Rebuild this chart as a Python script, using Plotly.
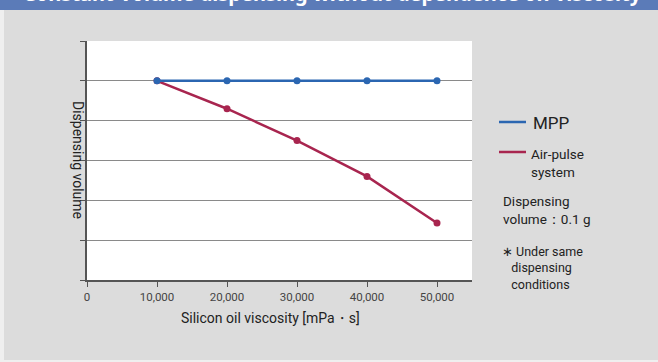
import plotly.graph_objects as go

# data
viscosity = [10000, 20000, 30000, 40000, 50000]
mpp_volume = [5.0, 5.0, 5.0, 5.0, 5.0]
air_pulse_volume = [5.0, 4.3, 3.5, 2.6, 1.43]
x_ticks = [0, 10000, 20000, 30000, 40000, 50000]
x_tick_labels = ["0", "10,000", "20,000", "30,000", "40,000", "50,000"]

FONT = "Liberation Sans Narrow, Roboto, Arial, sans-serif"
BG = "#dcdcdc"
BLUE = "#2b66b1"
RED = "#a8254f"

W, H = 658, 362
L, R, T, B = 87, 186, 41, 82
pw, ph = W - L - R, H - T - B


def px_x(p):
    return (p - L) / pw


def px_y(p):
    return 1 - (p - T) / ph


fig = go.Figure()
fig.add_trace(go.Scatter(
    x=viscosity, y=air_pulse_volume, mode="lines+markers",
    line=dict(color=RED, width=2.5), marker=dict(color=RED, size=7),
    showlegend=False,
))
fig.add_trace(go.Scatter(
    x=viscosity, y=mpp_volume, mode="lines+markers",
    line=dict(color=BLUE, width=2.5), marker=dict(color=BLUE, size=7),
    showlegend=False,
))

# light frame edges of the panel
fig.add_shape(type="rect", xref="paper", yref="paper",
              x0=px_x(-2), x1=px_x(4), y0=px_y(364), y1=px_y(10),
              fillcolor="#efefef", line_width=0, layer="below")
fig.add_shape(type="rect", xref="paper", yref="paper",
              x0=px_x(-2), x1=px_x(W + 2), y0=px_y(364), y1=px_y(360),
              fillcolor="#efefef", line_width=0, layer="below")

# title banner (cut off at the top of the picture)
fig.add_shape(type="rect", xref="paper", yref="paper",
              x0=px_x(-2), x1=px_x(W + 2), y0=px_y(10), y1=px_y(-5),
              fillcolor="#5b7bb8", line_width=0, layer="below")
fig.add_annotation(text="<b>Constant-volume dispensing without dependence on viscosity</b>",
                   xref="paper", yref="paper", x=px_x(332), y=px_y(9),
                   xanchor="center", yanchor="bottom", showarrow=False,
                   font=dict(family="Noto Sans, sans-serif", size=20, color="white"))

# legend, drawn by hand
for yy, col in [(122, BLUE), (152, RED)]:
    fig.add_shape(type="line", xref="paper", yref="paper",
                  x0=px_x(499), x1=px_x(526), y0=px_y(yy), y1=px_y(yy),
                  line=dict(color=col, width=2.5))
fig.add_annotation(text="MPP", xref="paper", yref="paper", x=px_x(531), y=px_y(123),
                   xanchor="left", yanchor="middle", showarrow=False,
                   font=dict(family=FONT, size=17, color="#222"))
fig.add_annotation(text="Air-pulse<br>system", xref="paper", yref="paper",
                   x=px_x(529), y=px_y(163), xanchor="left", yanchor="middle",
                   align="left", showarrow=False,
                   font=dict(family=FONT, size=13.5, color="#222"))
fig.add_annotation(text="Dispensing<br>volume：0.1 g", xref="paper", yref="paper",
                   x=px_x(501), y=px_y(210), xanchor="left", yanchor="middle",
                   align="left", showarrow=False,
                   font=dict(family=FONT, size=13.5, color="#222"))
fig.add_annotation(text="∗ Under same<br>   dispensing<br>   conditions", xref="paper", yref="paper",
                   x=px_x(500), y=px_y(268), xanchor="left", yanchor="middle",
                   align="left", showarrow=False,
                   font=dict(family=FONT, size=12.5, color="#222"))

# axis titles
fig.add_annotation(text="Dispensing volume", xref="paper", yref="paper",
                   x=px_x(68), y=px_y(160), textangle=90, showarrow=False,
                   font=dict(family=FONT, size=14, color="#222"))
fig.add_annotation(text="Silicon oil viscosity [mPa・s]", xref="paper", yref="paper",
                   x=px_x(270), y=px_y(328), showarrow=False,
                   font=dict(family=FONT, size=14, color="#222"))

fig.update_layout(
    width=W, height=H,
    margin=dict(l=L, r=R, t=T, b=B),
    paper_bgcolor=BG, plot_bgcolor="white",
    xaxis=dict(range=[0, 55000], tickvals=x_ticks, ticktext=x_tick_labels,
               showgrid=False, zeroline=False, showline=True, linecolor="#555",
               linewidth=1.5, ticks="outside", ticklen=5, tickcolor="#555",
               tickfont=dict(family=FONT, size=11.5, color="#444")),
    yaxis=dict(range=[0, 6], dtick=1, showticklabels=False, showgrid=True,
               gridcolor="#8a8a8a", gridwidth=1, zeroline=False, showline=True,
               linecolor="#555", linewidth=1.5, ticks="outside", ticklen=5,
               tickcolor="#555"),
)

fig.write_html("out.html", config={"displayModeBar": False},
               post_script="document.body.style.margin='0';")
